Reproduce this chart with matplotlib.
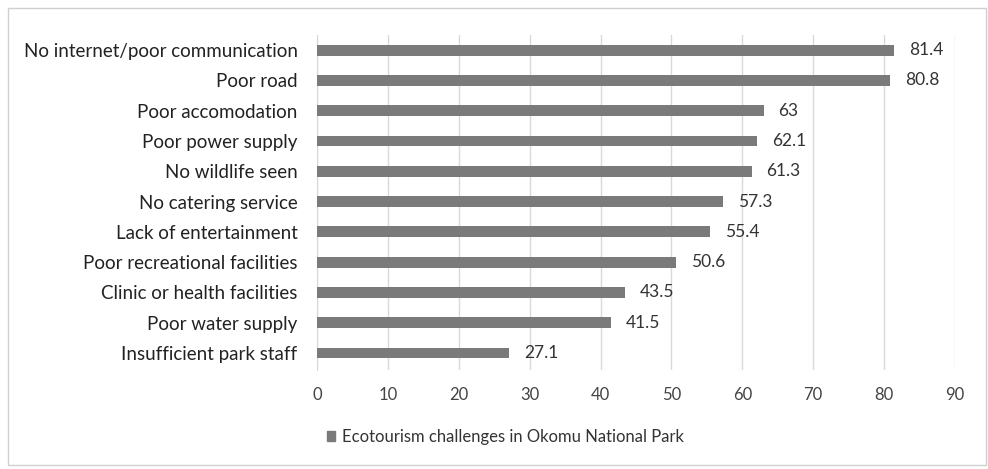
import matplotlib.pyplot as plt
from matplotlib.patches import Rectangle, Patch
import numpy as np

# challenges, listed top to bottom as in the chart
labels = ['No internet/poor communication', 'Poor road', 'Poor accomodation',
          'Poor power supply', 'No wildlife seen', 'No catering service',
          'Lack of entertainment', 'Poor recreational facilities',
          'Clinic or health facilities', 'Poor water supply',
          'Insufficient park staff']
values = [81.4, 80.8, 63, 62.1, 61.3, 57.3, 55.4, 50.6, 43.5, 41.5, 27.1]
value_text = ['81.4', '80.8', '63', '62.1', '61.3', '57.3', '55.4', '50.6',
              '43.5', '41.5', '27.1']
xticks = np.arange(0, 100, 10)
series = 'Ecotourism challenges in Okomu National Park'

plt.rcParams['font.family'] = ['Lato', 'DejaVu Sans']

fig = plt.figure(figsize=(9.88, 4.69), dpi=100)
ax = fig.add_axes([317 / 988, 1 - 370 / 469, (955 - 317) / 988, (370 - 35) / 469])

# outer chart border
fig.patches.append(Rectangle((8 / 988, 4 / 469), 978 / 988, 457 / 469,
                             transform=fig.transFigure, fill=False,
                             edgecolor='#d0d0d0', linewidth=1))

y = np.arange(len(labels))[::-1]
bar_color = '#7a7a7a'
ax.barh(y, values, height=0.36, color=bar_color, zorder=3)

for yi, v, t in zip(y, values, value_text):
    ax.text(v + 2.1, yi, t, va='center', ha='left', fontsize=12.5, color='#333333')

ax.set_xlim(0, 90)
ax.set_ylim(-0.56, 10.5)
ax.set_xticks(xticks)
ax.set_yticks(y)
ax.set_yticklabels(labels, fontsize=13.5, color='#222222')
ax.tick_params(axis='x', labelsize=12, colors='#444444', length=0, pad=12)
ax.tick_params(axis='y', length=0, pad=14)
ax.grid(axis='x', color='#d9d9d9', linewidth=1, zorder=0)

for s in ['top', 'right', 'bottom']:
    ax.spines[s].set_visible(False)
ax.spines['left'].set_color('#d9d9d9')

fig.legend(handles=[Patch(color=bar_color, label=series)],
           loc='center left', bbox_to_anchor=(312 / 988, 1 - 437 / 469),
           frameon=False, fontsize=12, handlelength=0.5, handleheight=0.5,
           handletextpad=0.4, labelcolor='#333333')

fig.savefig('out.png', dpi=100)
